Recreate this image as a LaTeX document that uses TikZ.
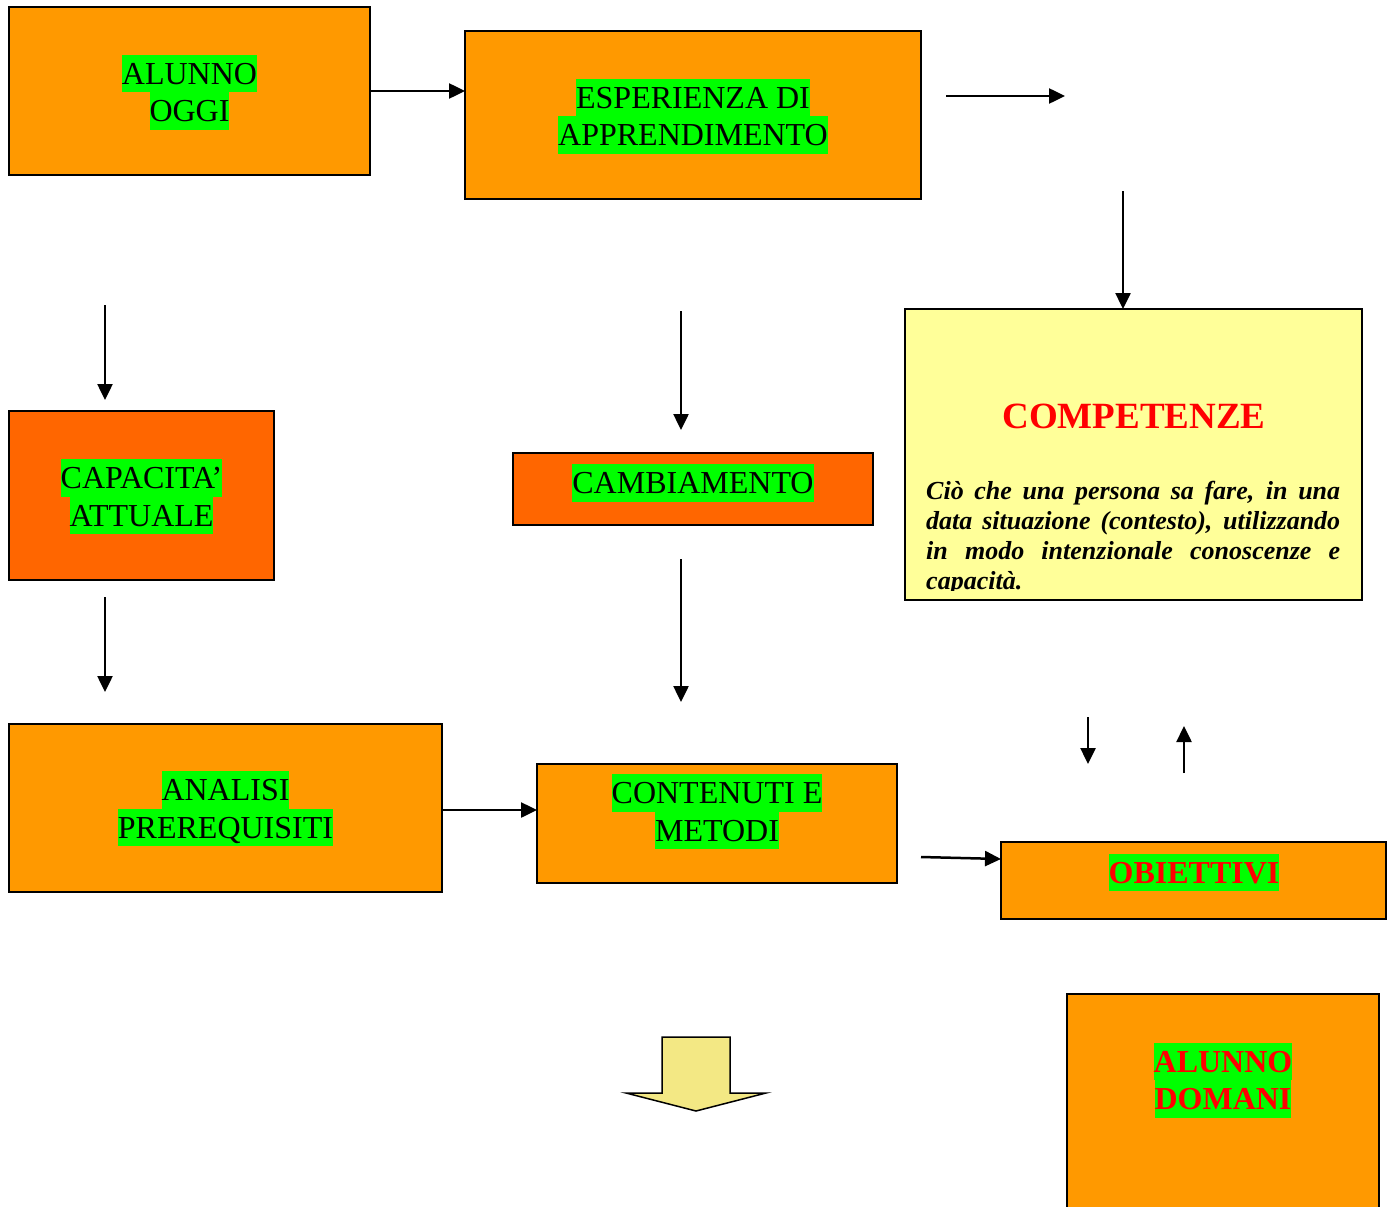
\documentclass[tikz,border=0pt]{standalone}
\usepackage{fontspec}
\setmainfont{Liberation Serif}
\usetikzlibrary{arrows.meta,calc}
\definecolor{boxorange}{HTML}{FF9900}
\definecolor{boxred}{HTML}{FF6600}
\definecolor{hlgreen}{HTML}{00FF00}
\definecolor{txtred}{HTML}{FF0000}
\definecolor{compyellow}{HTML}{FFFF99}
\definecolor{arrowyellow}{HTML}{F3E884}
\newcommand\hlline[1]{{\setlength{\fboxsep}{0pt}\colorbox{hlgreen}{\rule[-8pt]{0pt}{37.5pt}#1}}}
\begin{document}
\begin{tikzpicture}[x=1pt,y=-1pt,
  diabox/.style={draw=black,line width=1.5pt,inner sep=0pt,outer sep=0pt},
  boxtext/.style={inner sep=0pt,align=center,font=\fontsize{32}{37.5}\selectfont},
  boldtext/.style={inner sep=0pt,align=center,text=txtred,font=\fontsize{32}{37.5}\selectfont\bfseries},
  arr/.style={line width=2.5pt,-{Triangle[length=16pt,width=15pt]}}]
\useasboundingbox (0,0) rectangle (1392,1207);
\clip (0,0) rectangle (1392,1207);

% boxes
\node[diabox,fill=boxorange,minimum width=361pt,minimum height=168pt] (alunno) at (189.5,91) {};
\node[diabox,fill=boxorange,minimum width=456pt,minimum height=168pt] (esper) at (693,115) {};
\node[diabox,fill=compyellow,minimum width=457pt,minimum height=291pt] (comp) at (1133.5,454.5) {};
\node[diabox,fill=boxred,minimum width=265pt,minimum height=169pt] (capac) at (141.5,495.5) {};
\node[diabox,fill=boxred,minimum width=360pt,minimum height=72pt] (camb) at (693,489) {};
\node[diabox,fill=boxorange,minimum width=433pt,minimum height=168pt] (analisi) at (225.5,808) {};
\node[diabox,fill=boxorange,minimum width=360pt,minimum height=119pt] (contenuti) at (717,823.5) {};
\node[diabox,fill=boxorange,minimum width=385pt,minimum height=77pt] (obiettivi) at (1193.5,880.5) {};
\node[diabox,fill=boxorange,minimum width=312pt,minimum height=226pt] (domani) at (1223,1107) {};

% texts
\node[boxtext] (talunno) at (189.5,92) {\hlline{ALUNNO}\\\hlline{OGGI}};
\node[boxtext] (tesper) at (693,116) {\hlline{ESPERIENZA DI}\\\hlline{APPRENDIMENTO}};
\node[boxtext] (tcapac) at (141.5,496.5) {\hlline{CAPACITA’}\\\hlline{ATTUALE}};
\node[boxtext] (tcamb) at (693,483) {\hlline{CAMBIAMENTO}};
\node[boxtext] (tanalisi) at (225.5,808.5) {\hlline{ANALISI}\\\hlline{PREREQUISITI}};
\node[boxtext] (tcontenuti) at (717,811.5) {\hlline{CONTENUTI E}\\\hlline{METODI}};
\node[boldtext] (tobiettivi) at (1194,872.5) {\hlline{OBIETTIVI}};
\node[boldtext] (tdomani) at (1223,1080) {\hlline{ALUNNO}\\\hlline{DOMANI}};

\node[inner sep=0pt,anchor=base,text=txtred,font=\fontsize{37}{44}\selectfont\bfseries] (comptitle) at (1134,428) {COMPETENZE};
\begin{scope}
\clip (906,310) rectangle (1361,590);
\node[inner sep=0pt,anchor=base west] (comptext) at (926,499) {\parbox[t]{414pt}{\fontsize{26}{30}\selectfont\bfseries\itshape\hyphenpenalty=10000 \exhyphenpenalty=10000 Ciò che una persona sa fare, in una data situazione (contesto), utilizzando in modo intenzionale conoscenze e capacità.}};
\end{scope}

% free coordinates
\coordinate (p1) at (946,96);
\coordinate (p2) at (1065,96);
\coordinate (p3) at (1123,191);
\coordinate (p4) at (105,305);
\coordinate (p5) at (105,400);
\coordinate (p6) at (105,597);
\coordinate (p7) at (105,692);
\coordinate (p8) at (681,311);
\coordinate (p9) at (681,430);
\coordinate (p10) at (681,559);
\coordinate (p11) at (681,702);
\coordinate (p12) at (921,857);
\coordinate (p13) at (1088,717);
\coordinate (p14) at (1088,764);
\coordinate (p15) at (1184,773);
\coordinate (p16) at (1184,726);

% connectors
\draw[arr] (alunno.east) -- (alunno.east -| esper.west);
\draw[arr] (p1) -- (p2);
\draw[arr] (p3) -- (p3 |- comp.north);
\draw[arr] (p4) -- (p5);
\draw[arr] (p6) -- (p7);
\draw[arr] (p8) -- (p9);
\draw[arr] (p10) -- (p11);
\draw[arr] ($(analisi.east)+(0,2)$) -- ($(analisi.east -| contenuti.west)+(0,2)$);
\draw[arr] (p12) -- ($(obiettivi.north west)+(0,17)$);
\draw[arr] (p13) -- (p14);
\draw[arr] (p15) -- (p16);

% block arrow
\draw[line width=1.5pt,fill=arrowyellow,line join=miter] (662,1037) -- (730,1037) -- (730,1093) -- (766,1093) -- (696,1111) -- (626,1093) -- (662,1093) -- cycle;
\end{tikzpicture}
\end{document}
